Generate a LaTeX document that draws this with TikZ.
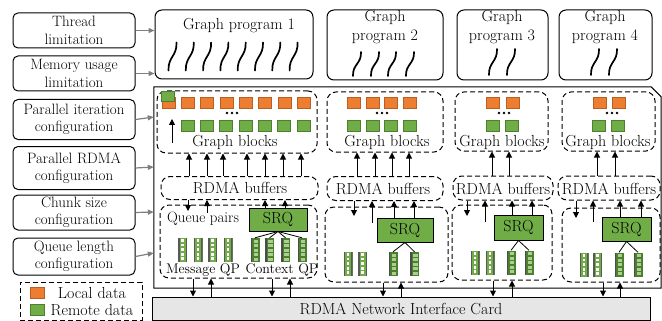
\documentclass[tikz,border=0pt]{standalone}
\usepackage{fontspec}
\usetikzlibrary{arrows.meta,calc}
\definecolor{org}{HTML}{ED7D31}
\definecolor{orgd}{HTML}{B85F22}
\definecolor{grn}{HTML}{70AD47}
\definecolor{grnd}{HTML}{4E7F30}
\definecolor{grnl}{HTML}{A9D18E}
\definecolor{nicg}{HTML}{E7E6E6}
\definecolor{arrg}{HTML}{7F7F7F}
\begin{document}
\begin{tikzpicture}[x=1pt,y=-1pt,
 lbox/.style={draw, rounded corners=5pt, line width=1pt, minimum width=122pt, align=center, inner sep=0pt, font=\fontsize{15}{17.5}\selectfont},
 gpbox/.style={draw, rounded corners=7pt, line width=1pt, inner sep=0pt},
 dbox/.style={draw, rounded corners=9pt, line width=1pt, dash pattern=on 5pt off 3pt, inner sep=0pt},
 osq/.style={fill=org, draw=orgd, line width=0.6pt, minimum width=13pt, minimum height=11pt, inner sep=0pt},
 gsq/.style={fill=grn, draw=grnd, line width=0.6pt, minimum width=13pt, minimum height=11pt, inner sep=0pt},
 srqbox/.style={draw, fill=grn, line width=1pt, inner sep=0pt, font=\fontsize{16}{18}\selectfont},
 txt/.style={inner sep=0pt, font=\fontsize{16}{19}\selectfont, align=center},
 stxt/.style={inner sep=0pt, font=\fontsize{14}{16}\selectfont},
 gar/.style={draw=arrg, line width=1.2pt, -{Triangle[length=6pt,width=5pt]}},
 bar/.style={line width=1pt, -{Triangle[length=6pt,width=6pt]}},
 thr/.pic={\draw[line width=1.7pt, line cap=round] (-4,#1) .. controls (-4.5,0) and (4.5,0) .. (4,-#1);},
 msgq/.style={minimum width=9pt, minimum height=24pt, inner sep=0pt, fill=grn,
   path picture={
     \coordinate (pp) at (path picture bounding box.center);
     \fill[black!65] ([xshift=-4.5pt,yshift=-12pt]pp) rectangle ([xshift=-3pt,yshift=12pt]pp);
     \fill[black!65] ([xshift=3pt,yshift=-12pt]pp) rectangle ([xshift=4.5pt,yshift=12pt]pp);
     \foreach \k in {-2,...,2}
       \fill[white] ([xshift=-1.4pt,yshift=\k*4.6pt-1.4pt]pp) rectangle ([xshift=1.4pt,yshift=\k*4.6pt+1.4pt]pp);
   }},
 ctxq/.style={minimum width=9pt, minimum height=24pt, inner sep=0pt, fill=grnd,
   path picture={
     \coordinate (pp) at (path picture bounding box.center);
     \fill[black!70] ([xshift=-4.5pt,yshift=-12pt]pp) rectangle ([xshift=-3pt,yshift=12pt]pp);
     \foreach \k in {-2,...,2}
       \filldraw[fill=grnl, draw=grnd, line width=0.5pt] ([xshift=-2.2pt,yshift=\k*4.6pt-2pt]pp) rectangle ([xshift=3.6pt,yshift=\k*4.6pt+2pt]pp);
   }},
 ]
\useasboundingbox (0,0) rectangle (662,321);

% ---------- left configuration boxes ----------
\node[lbox, minimum height=35pt] (tl) at (74,30.5) {Thread\\limitation};
\node[lbox, minimum height=35pt] (ml) at (74,73.5) {Memory usage\\limitation};
\node[lbox, minimum height=40pt] (pi) at (74,119.5) {Parallel iteration\\configuration};
\node[lbox, minimum height=43pt] (pr) at (74,168) {Parallel RDMA\\configuration};
\node[lbox, minimum height=35pt] (cs) at (74,212.5) {Chunk size\\configuration};
\node[lbox, minimum height=37pt] (ql) at (74,256.5) {Queue length\\configuration};

% ---------- legend ----------
\node[draw, line width=1pt, dash pattern=on 5pt off 3pt, minimum width=122pt, minimum height=38pt, inner sep=0pt] (leg) at (81,301) {};
\node[osq, minimum width=14pt] (lo) at (37,292.5) {};
\node[gsq, minimum width=14pt] (lg) at (37,309.5) {};
\node[txt] (lot) at (92,293) {Local data};
\node[txt] (lgt) at (92,310) {Remote data};

% ---------- graph programs ----------
\node[gpbox, minimum width=158pt, minimum height=69pt] (gp1) at (234,44.5) {};
\node[txt] (gp1t) at (239,26) {Graph program 1};
\foreach \i in {0,...,7} \pic at ({172.5+17.3*\i},56.5) {thr=14};
\node[gpbox, minimum width=116pt, minimum height=70pt] (gp2) at (385,45) {};
\node[txt] (gp2t) at (385,27) {Graph\\program 2};
\foreach \x in {357,375,392,410} \pic at (\x,64) {thr=12};
\node[gpbox, minimum width=91pt, minimum height=70pt] (gp3) at (502.5,45) {};
\node[txt] (gp3t) at (502,27) {Graph\\program 3};
\foreach \x in {493,511} \pic at (\x,62) {thr=13};
\node[gpbox, minimum width=93pt, minimum height=70pt] (gp4) at (605.5,45) {};
\node[txt] (gp4t) at (605,27) {Graph\\program 4};
\foreach \x in {595,613} \pic at (\x,62) {thr=13};

% ---------- outer frame ----------
\node[minimum width=507pt, minimum height=201pt, inner sep=0pt] (outer) at (407.5,187.5) {};
\draw[line width=1pt] (outer.south west) -- (outer.north west) -- ($(outer.north east)+(-10,0)$) -- ($(outer.north east)+(0,10)$) -- (outer.south east) -- cycle;

% ---------- NIC ----------
\node[draw, fill=nicg, line width=1pt, minimum width=498pt, minimum height=23pt, inner sep=0pt, font=\fontsize{16}{19}\selectfont] (nic) at (401,308.5) {RDMA Network Interface Card};

% ---------- graph blocks ----------
\node[dbox, minimum width=160pt, minimum height=62pt] (gb1) at (237,122) {};
\node[dbox, minimum width=116pt, minimum height=60pt] (gb2) at (385,122) {};
\node[dbox, minimum width=93pt, minimum height=59pt] (gb3) at (501.5,121.5) {};
\node[dbox, minimum width=93pt, minimum height=59pt] (gb4) at (608.5,121.5) {};

\foreach \i in {0,...,7} \node[osq] (o1\i) at ({168.5+19.3*\i},102.5) {};
\node[gsq, minimum height=10pt] (ov1) at (167.5,96) {};
\foreach \i in {0,...,6} \node[gsq] (g1\i) at ({187.5+19.3*\i},125.5) {};
\foreach \d in {-5,0,5} \fill ({232+\d},113) circle (1.3pt);
\coordinate (ua1) at (172,143);
\coordinate (ua2) at (172,119);
\draw[bar] (ua1) -- (ua2);
\node[txt] (gb1t) at (235,142) {Graph blocks};

\foreach \i in {0,...,3} \node[osq] (o2\i) at ({353.5+18.8*\i},103) {};
\foreach \i in {0,...,3} \node[gsq] (g2\i) at ({353.5+18.8*\i},125.5) {};
\foreach \d in {-5,0,5} \fill ({382+\d},113) circle (1.3pt);
\node[txt] (gb2t) at (387,142) {Graph blocks};

\foreach \i/\x in {0/492.5,1/512.5} \node[osq] (o3\i) at (\x,103) {};
\foreach \i/\x in {0/492.5,1/512} \node[gsq] (g3\i) at (\x,125.5) {};
\foreach \d in {-5,0,5} \fill ({504+\d},113) circle (1.3pt);
\node[txt] (gb3t) at (502,142) {Graph blocks};

\foreach \i/\x in {0/599.5,1/619} \node[osq] (o4\i) at (\x,103) {};
\foreach \i/\x in {0/598.5,1/618} \node[gsq] (g4\i) at (\x,125.5) {};
\foreach \d in {-5,0,5} \fill ({612+\d},113) circle (1.3pt);
\node[txt] (gb4t) at (608,142) {Graph blocks};

% ---------- RDMA buffers ----------
\node[dbox, minimum width=157pt, minimum height=23pt] (rb1) at (239.5,188) {};
\node[dbox, minimum width=116pt, minimum height=24pt] (rb2) at (385,188.5) {};
\node[dbox, minimum width=100pt, minimum height=24pt] (rb3) at (503,188) {};
\node[dbox, minimum width=102pt, minimum height=24pt] (rb4) at (609,188) {};
\node[txt] (rb1t) at (240,187.5) {RDMA buffers};
\node[txt] (rb2t) at (383,189) {RDMA buffers};
\node[txt] (rb3t) at (503,188.5) {RDMA buffers};
\node[txt] (rb4t) at (609,188.5) {RDMA buffers};

\foreach \x in {189,207,223,247,265,283,301} \draw[bar] (rb1.north -| \x,0) -- (gb1.south -| \x,0);
\foreach \x in {357,375,392,409} \draw[bar] (rb2.north -| \x,0) -- (gb2.south -| \x,0);
\foreach \x in {492,509} \draw[bar] (rb3.north -| \x,0) -- (gb3.south -| \x,0);
\foreach \x in {597,615} \draw[bar] (rb4.north -| \x,0) -- (gb4.south -| \x,0);

% ---------- queue pairs ----------
\node[dbox, minimum width=157pt, minimum height=73pt] (qp1) at (238.5,241.5) {};
\node[dbox, minimum width=123pt, minimum height=75pt] (qp2) at (386.5,244.5) {};
\node[dbox, minimum width=100pt, minimum height=75pt] (qp3) at (502,242.5) {};
\node[dbox, minimum width=98pt, minimum height=74pt] (qp4) at (611,245) {};
\node[inner sep=0pt, font=\fontsize{15}{17}\selectfont] (qpt) at (203,219) {Queue pairs};

\node[srqbox, minimum width=58pt, minimum height=23pt] (srq1) at (278,219.5) {SRQ};
\node[srqbox, minimum width=56pt, minimum height=24pt] (srq2) at (405,230) {SRQ};
\node[srqbox, minimum width=49pt, minimum height=25pt] (srq3) at (518.5,227.5) {SRQ};
\node[srqbox, minimum width=49pt, minimum height=24pt] (srq4) at (626.5,229) {SRQ};

% message / context queue icons
\foreach \i/\x in {1/182.5,2/198,3/212.5,4/228} \node[msgq] (m1\i) at (\x,249.5) {};
\foreach \i/\x in {1/255,2/269.5,3/285.5,4/302} \node[ctxq] (c1\i) at (\x,250) {};
\foreach \i in {1,...,4} \draw[line width=0.8pt] (srq1.south) -- (c1\i.north);
\node[stxt] (mqt) at (203,270) {Message QP};
\node[stxt] (cqt) at (282,270) {Context QP};

\foreach \i/\x in {1/348,2/362.5} \node[msgq] (m2\i) at (\x,263.5) {};
\foreach \i/\x in {1/393,2/414.5} \node[ctxq] (c2\i) at (\x,264) {};
\foreach \i in {1,2} \draw[line width=0.8pt] (srq2.south) -- (c2\i.north);

\foreach \i/\x in {1/475,2/490} \node[msgq] (m3\i) at (\x,262.5) {};
\foreach \i/\x in {1/511,2/529} \node[ctxq] (c3\i) at (\x,262.5) {};
\foreach \i in {1,2} \draw[line width=0.8pt] (srq3.south) -- (c3\i.north);

\foreach \i/\x in {1/584,2/597.5} \node[msgq] (m4\i) at (\x,264.5) {};
\foreach \i/\x in {1/619,2/638} \node[ctxq] (c4\i) at (\x,264.5) {};
\foreach \i in {1,2} \draw[line width=0.8pt] (srq4.south) -- (c4\i.north);

% RDMA buffers <-> queue pairs
\coordinate (d1) at (188,211);  \draw[bar] (rb1.south -| d1) -- (d1);
\coordinate (u1) at (207,213);  \draw[bar] (u1) -- (rb1.south -| u1);
\foreach \x in {265,285} \draw[bar] (srq1.north -| \x,0) -- (rb1.south -| \x,0);
\coordinate (d2) at (354,216);  \draw[bar] (rb2.south -| d2) -- (d2);
\coordinate (u2) at (372,223);  \draw[bar] (u2) -- (rb2.south -| u2);
\foreach \x in {394,414} \draw[bar] (srq2.north -| \x,0) -- (rb2.south -| \x,0);
\coordinate (d3) at (467,216);  \draw[bar] (rb3.south -| d3) -- (d3);
\coordinate (u3) at (485,222);  \draw[bar] (u3) -- (rb3.south -| u3);
\foreach \x in {512,532} \draw[bar] (srq3.north -| \x,0) -- (rb3.south -| \x,0);
\coordinate (d4) at (576,218);  \draw[bar] (rb4.south -| d4) -- (d4);
\coordinate (u4) at (593,222);  \draw[bar] (u4) -- (rb4.south -| u4);
\foreach \x in {620,641} \draw[bar] (srq4.north -| \x,0) -- (rb4.south -| \x,0);

% queue pairs <-> NIC
\foreach \x in {193,272} \draw[bar] (qp1.south -| \x,0) -- (nic.north -| \x,0);
\foreach \x in {211,290} \draw[bar] (nic.north -| \x,0) -- (qp1.south -| \x,0);
\draw[bar] (qp2.south -| 383,0) -- (nic.north -| 383,0);
\draw[bar] (nic.north -| 401,0) -- (qp2.south -| 401,0);
\draw[bar] (qp3.south -| 493,0) -- (nic.north -| 493,0);
\draw[bar] (nic.north -| 512,0) -- (qp3.south -| 512,0);
\draw[bar] (qp4.south -| 603,0) -- (nic.north -| 603,0);
\draw[bar] (nic.north -| 620,0) -- (qp4.south -| 620,0);

% ---------- gray configuration arrows ----------
\draw[gar] (tl.east) -- (gp1.west |- tl.east);
\draw[gar] (ml.east) -- (gp1.west |- ml.east);
\draw[gar] (pi.east) -- (outer.west |- 0,117);
\draw[gar] (pr.east) -- (outer.west |- 0,167);
\draw[gar] (cs.east) -- (outer.west |- 0,212);
\draw[gar] (ql.east) -- (outer.west |- 0,253);
\end{tikzpicture}
\end{document}
